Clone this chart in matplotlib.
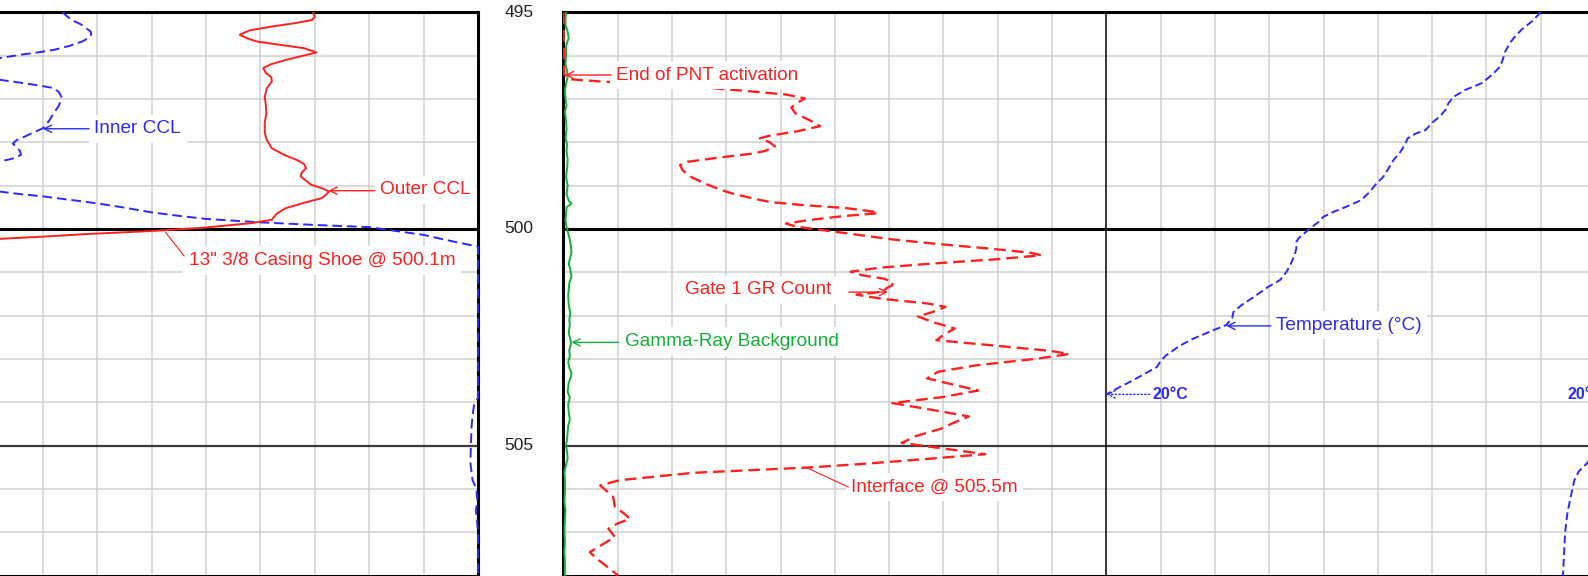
import matplotlib
matplotlib.use("Agg")
import matplotlib.pyplot as plt

plt.rcParams['font.family'] = ['Liberation Sans', 'DejaVu Sans']
plt.rcParams['lines.solid_joinstyle'] = 'round'
plt.rcParams['lines.dash_joinstyle'] = 'round'

# ---------------- data ----------------
# Left track (units 0..10, track border at 10)
inner_ccl_depth = [495.0, 495.1, 495.18, 495.28, 495.37, 495.45, 495.52, 495.6, 495.68, 495.78, 495.87,
                   495.93, 495.98, 496.06, 496.15, 496.3, 496.45, 496.56, 496.62, 496.68, 496.75, 496.85,
                   496.95, 497.02, 497.15, 497.33, 497.5, 497.68, 497.78, 497.87, 497.95, 498.03, 498.1,
                   498.2, 498.29, 498.36, 498.41, 498.47, 498.7, 498.95, 499.14, 499.2, 499.25, 499.33,
                   499.41, 499.5, 499.62, 499.7, 499.77, 499.85, 499.91, 499.96, 500.05, 500.14, 500.28,
                   500.41, 501.0, 503.9, 504.05, 504.3, 504.6, 505.0, 505.4, 505.8, 506.0, 506.3, 506.5,
                   506.7, 507.0, 508.0]
inner_ccl = [2.36, 2.45, 2.53, 2.7, 2.8, 2.88, 2.89, 2.83, 2.72, 2.48, 2.2,
             1.9, 1.6, 1.21, 0.8, 0.5, 0.8, 1.21, 1.55, 1.87, 2.2, 2.3,
             2.34, 2.33, 2.3, 2.2, 2.12, 2.0, 1.82, 1.67, 1.52, 1.45, 1.5,
             1.58, 1.6, 1.5, 1.34, 1.1, 0.6, 0.8, 1.21, 1.6, 2.0, 2.5,
             2.99, 3.45, 4.0, 4.5, 4.99, 6.0, 7.0, 8.0, 8.5, 9.0, 9.5,
             10.0, 10.0, 10.0, 9.93, 9.9, 9.88, 9.87, 9.86, 9.9, 9.97, 9.99, 9.96,
             9.98, 10.0, 10.0]

outer_ccl_depth = [495.0, 495.1, 495.18, 495.26, 495.33, 495.42, 495.52, 495.6, 495.68, 495.76, 495.83,
                   495.93, 496.0, 496.1, 496.2, 496.29, 496.4, 496.5, 496.6, 496.75, 496.95, 497.15,
                   497.33, 497.55, 497.79, 497.95, 498.14, 498.3, 498.41, 498.5, 498.6, 498.7, 498.79,
                   498.9, 498.98, 499.07, 499.14, 499.22, 499.29, 499.4, 499.52, 499.65, 499.79, 499.87,
                   499.92, 499.97, 500.05, 500.12, 500.18, 500.23, 500.31, 500.5, 508.0]
outer_ccl = [6.97, 7.0, 6.95, 6.6, 6.21, 5.8, 5.62, 5.75, 5.95, 6.4, 6.8,
             7.03, 6.8, 6.47, 6.2, 6.05, 6.1, 6.2, 6.21, 6.12, 6.08, 6.1,
             6.11, 6.08, 6.08, 6.12, 6.21, 6.45, 6.67, 6.8, 6.84, 6.76, 6.74,
             6.85, 6.93, 7.15, 7.26, 7.2, 7.13, 6.8, 6.47, 6.3, 6.21, 5.82,
             5.4, 4.99, 4.0, 2.8, 2.0, 1.21, 0.0, -3.0, -3.0]

# Right track (units 0..10 counts, 10..20 temperature)
gate1_depth = [495.0, 496.45, 496.55, 496.6, 496.66, 496.73, 496.81, 496.9, 496.99, 497.1, 497.2,
               497.34, 497.5, 497.63, 497.75, 497.85, 497.91, 498.0, 498.1, 498.2, 498.26, 498.35,
               498.45, 498.53, 498.65, 498.8, 498.95, 499.1, 499.18, 499.3, 499.38, 499.45, 499.52,
               499.6, 499.64, 499.7, 499.8, 499.88, 499.95, 500.05, 500.15, 500.25, 500.35, 500.45,
               500.55, 500.61, 500.7, 500.8, 500.9, 500.99, 501.07, 501.15, 501.22, 501.3, 501.37,
               501.45, 501.52, 501.62, 501.72, 501.8, 501.92, 502.02, 502.15, 502.3, 502.45, 502.57,
               502.7, 502.82, 502.89, 503.0, 503.15, 503.3, 503.45, 503.6, 503.73, 503.88, 504.02,
               504.18, 504.33, 504.47, 504.61, 504.78, 504.94, 505.07, 505.2, 505.3, 505.43, 505.51,
               505.63, 505.8, 505.92, 506.05, 506.19, 506.42, 506.55, 506.69, 506.8, 506.92, 507.11,
               507.3, 507.46, 507.6, 507.73, 508.0]
gate1 = [0.0, 0.02, 0.15, 0.7, 1.56, 2.5, 3.3, 4.1, 4.45, 4.3, 4.2,
         4.28, 4.55, 4.73, 4.3, 3.8, 3.62, 3.8, 3.9, 3.72, 3.5, 2.9,
         2.3, 2.15, 2.2, 2.35, 2.6, 2.9, 3.1, 3.5, 3.8, 4.4, 5.2,
         5.7, 5.8, 5.2, 4.5, 4.1, 4.3, 4.9, 5.5, 6.1, 6.9, 7.8,
         8.6, 8.8, 8.0, 6.8, 5.8, 5.29, 5.5, 5.9, 6.06, 6.06, 5.95,
         5.89, 5.4, 5.9, 6.7, 7.04, 6.8, 6.53, 6.8, 7.21, 7.0, 6.87,
         8.0, 9.0, 9.31, 8.7, 7.6, 6.9, 6.7, 7.2, 7.64, 7.0, 6.06,
         6.8, 7.47, 7.2, 6.96, 6.5, 6.23, 7.0, 7.77, 6.8, 5.46, 4.48,
         2.39, 1.04, 0.68, 0.8, 0.92, 0.95, 1.1, 1.23, 1.0, 0.83, 0.95,
         0.7, 0.49, 0.6, 0.74, 1.01]

gamma_depth = [495.0, 495.15, 495.3, 495.45, 495.6, 495.7, 495.8, 496.0, 496.2, 496.35, 496.5,
               496.65, 496.8, 497.0, 497.15, 497.3, 497.5, 497.7, 497.9, 498.05, 498.2, 498.4,
               498.6, 498.8, 499.0, 499.2, 499.35, 499.42, 499.5, 499.65, 499.8, 499.95, 500.1,
               500.25, 500.4, 500.55, 500.7, 500.8, 500.95, 501.1, 501.25, 501.4, 501.55, 501.76,
               501.95, 502.1, 502.22, 502.4, 502.55, 502.65, 502.8, 502.95, 503.07, 503.2, 503.32,
               503.42, 503.55, 503.76, 503.9, 504.05, 504.23, 504.4, 504.55, 504.69, 504.85, 505.0,
               505.15, 505.3, 505.45, 505.61, 505.8, 506.07, 506.3, 506.5, 506.69, 507.0, 507.2,
               507.46, 507.7, 507.92, 508.0]
gamma = [0.05, 0.04, 0.04, 0.08, 0.1, 0.07, 0.05, 0.05, 0.04, 0.07, 0.08,
         0.05, 0.03, 0.04, 0.06, 0.03, 0.05, 0.06, 0.04, 0.07, 0.06, 0.08,
         0.07, 0.05, 0.08, 0.06, 0.1, 0.15, 0.06, 0.05, 0.04, 0.06, 0.09,
         0.12, 0.14, 0.15, 0.12, 0.1, 0.13, 0.15, 0.11, 0.1, 0.09, 0.1,
         0.13, 0.11, 0.12, 0.1, 0.13, 0.14, 0.11, 0.12, 0.09, 0.11, 0.15,
         0.14, 0.1, 0.08, 0.12, 0.09, 0.1, 0.12, 0.09, 0.08, 0.07, 0.05,
         0.07, 0.08, 0.05, 0.02, 0.03, 0.03, 0.02, 0.04, 0.03, 0.02, 0.03,
         0.02, 0.03, 0.03, 0.03]

temp_depth = [495.0, 495.2, 495.4, 495.6, 495.72, 495.9, 496.1, 496.26, 496.45, 496.64, 496.8,
              496.95, 497.1, 497.25, 497.41, 497.55, 497.72, 497.8, 497.91, 498.0, 498.14, 498.25,
              498.41, 498.6, 498.8, 498.99, 499.15, 499.34, 499.5, 499.6, 499.72, 499.85, 499.99,
              500.1, 500.22, 500.3, 500.45, 500.6, 500.8, 500.99, 501.18, 501.34, 501.57, 501.75,
              501.92, 502.05, 502.22, 502.35, 502.53, 502.7, 502.92, 503.05, 503.19, 503.35, 503.49,
              503.65, 503.82]
temperature = [18.0, 17.85, 17.65, 17.5, 17.43, 17.35, 17.3, 17.25, 17.1, 16.91, 16.6,
               16.4, 16.3, 16.25, 16.14, 16.0, 15.88, 15.7, 15.55, 15.52, 15.46, 15.4,
               15.29, 15.2, 15.1, 14.95, 14.85, 14.69, 14.4, 14.2, 14.0, 13.9, 13.75,
               13.65, 13.54, 13.5, 13.5, 13.47, 13.4, 13.32, 13.2, 12.98, 12.72, 12.5,
               12.34, 12.32, 12.21, 11.95, 11.61, 11.35, 11.1, 11.0, 10.93, 10.7, 10.5,
               10.25, 10.0]
temp_wrap_depth = [503.82, 504.2, 504.6, 504.95, 505.4, 505.6, 505.8, 506.2, 506.57, 507.0, 507.5, 508.0]
temp_wrap = [20.0, 19.7, 19.35, 19.05, 18.86, 18.7, 18.62, 18.55, 18.49, 18.45, 18.43, 18.41]

depth_labels = ["495", "500", "505"]
depth_label_values = [495, 500, 505]

# ---------------- layout ----------------
W, H = 1588, 576
fig = plt.figure(figsize=(W / 100, H / 100), dpi=100)

y_top, y_bot = 12.2, 575.5
ax_b = (H - y_bot) / H
ax_h = (y_bot - y_top) / H
ax1 = fig.add_axes([-66 / W, ax_b, 544 / W, ax_h])
ax2 = fig.add_axes([563.3 / W, ax_b, 1086 / W, ax_h])

RED = '#ff2020'
BLUE = '#2a2aff'
GREEN = '#12b034'
GRID = '#cfcfcf'

for ax, xmax in ((ax1, 10), (ax2, 20)):
    ax.set_xlim(0, xmax)
    ax.set_ylim(508, 495)
    ax.set_xticks([])
    ax.set_yticks([])
    for d in range(496, 508):
        if d == 500:
            ax.axhline(d, color='black', lw=2.2, zorder=1.5)
        elif d == 505:
            ax.axhline(d, color='#3a3a3a', lw=1.6, zorder=1.5)
        else:
            ax.axhline(d, color=GRID, lw=1.1, zorder=1)
    for x in range(1, xmax):
        if ax is ax2 and x == 10:
            ax.axvline(x, color='black', lw=1.1, zorder=1.5)
        else:
            ax.axvline(x, color=GRID, lw=1.1, zorder=1)
    for s in ax.spines.values():
        s.set_linewidth(2.2)
        s.set_color('black')

ax1.spines['left'].set_visible(False)
ax2.spines['right'].set_visible(False)

# ---------------- curves ----------------
ax1.plot(inner_ccl, inner_ccl_depth, color=BLUE, lw=1.4, dashes=(5, 2.5), zorder=4, clip_on=False)
ax1.plot(outer_ccl, outer_ccl_depth, color=RED, lw=1.4, zorder=4)

ax2.plot(gamma, gamma_depth, color=GREEN, lw=1.4, zorder=4)
ax2.plot(gate1, gate1_depth, color=RED, lw=1.7, dashes=(5, 2.5), zorder=4)
ax2.plot(temperature, temp_depth, color=BLUE, lw=1.4, dashes=(4, 2), zorder=4)
ax2.plot(temp_wrap, temp_wrap_depth, color=BLUE, lw=1.4, dashes=(4, 2), zorder=4)

# ---------------- annotations ----------------
FS = 13.7
box = dict(facecolor='white', edgecolor='none', pad=4)


def label(ax, x, y, s, color, fs=FS, **kw):
    ax.text(x, y, s, color=color, fontsize=fs, ha='left', va='center',
            bbox=box, zorder=5, clip_on=False, **kw)


def arrow(ax, tip, tail, color, style='->', ls='-', lw=1.0):
    ax.annotate('', xy=tip, xytext=tail,
                arrowprops=dict(arrowstyle=style, color=color, lw=lw, ls=ls,
                                shrinkA=0, shrinkB=0, mutation_scale=13),
                zorder=6, annotation_clip=False)


# left track
label(ax1, 2.95, 497.69, 'Inner CCL', BLUE)
arrow(ax1, (2.0, 497.69), (2.85, 497.69), BLUE)

label(ax1, 8.2, 499.1, 'Outer CCL', RED)
arrow(ax1, (7.25, 499.12), (8.1, 499.12), RED)

label(ax1, 4.68, 500.73, '13" 3/8 Casing Shoe @ 500.1m', RED)
arrow(ax1, (4.25, 500.07), (4.6, 500.63), RED, style='-', lw=0.8)

# right track
label(ax2, 0.97, 496.45, 'End of PNT activation', RED)
arrow(ax2, (0.03, 496.45), (0.88, 496.45), RED)

label(ax2, 2.25, 501.41, 'Gate 1 GR Count', RED)
arrow(ax2, (5.98, 501.46), (5.26, 501.46), RED)

label(ax2, 1.14, 502.6, 'Gamma-Ray Background', GREEN)
arrow(ax2, (0.15, 502.62), (1.02, 502.62), GREEN)

label(ax2, 13.12, 502.22, 'Temperature (°C)', BLUE)
arrow(ax2, (12.21, 502.24), (13.03, 502.24), BLUE)

label(ax2, 5.3, 505.96, 'Interface @ 505.5m', RED)
arrow(ax2, (4.48, 505.51), (5.25, 505.96), RED, style='-', lw=0.8)

ax2.text(10.86, 503.82, '20°C', color=BLUE, fontsize=11.5, fontweight='bold',
         ha='left', va='center', zorder=5)
arrow(ax2, (10.0, 503.82), (10.8, 503.82), BLUE, ls=':', lw=1.0)
ax2.text(18.5, 503.82, '20°C', color=BLUE, fontsize=11.5, fontweight='bold',
         ha='left', va='center', zorder=5, clip_on=False)

# depth labels between tracks
for s, d in zip(depth_labels, depth_label_values):
    ypx = y_top + (d - 495) * (y_bot - y_top) / 13.0
    fig.text(519 / W, 1 - ypx / H, s, fontsize=12.5, color='#222222', ha='center', va='center')

fig.savefig('out.png', dpi=100)
